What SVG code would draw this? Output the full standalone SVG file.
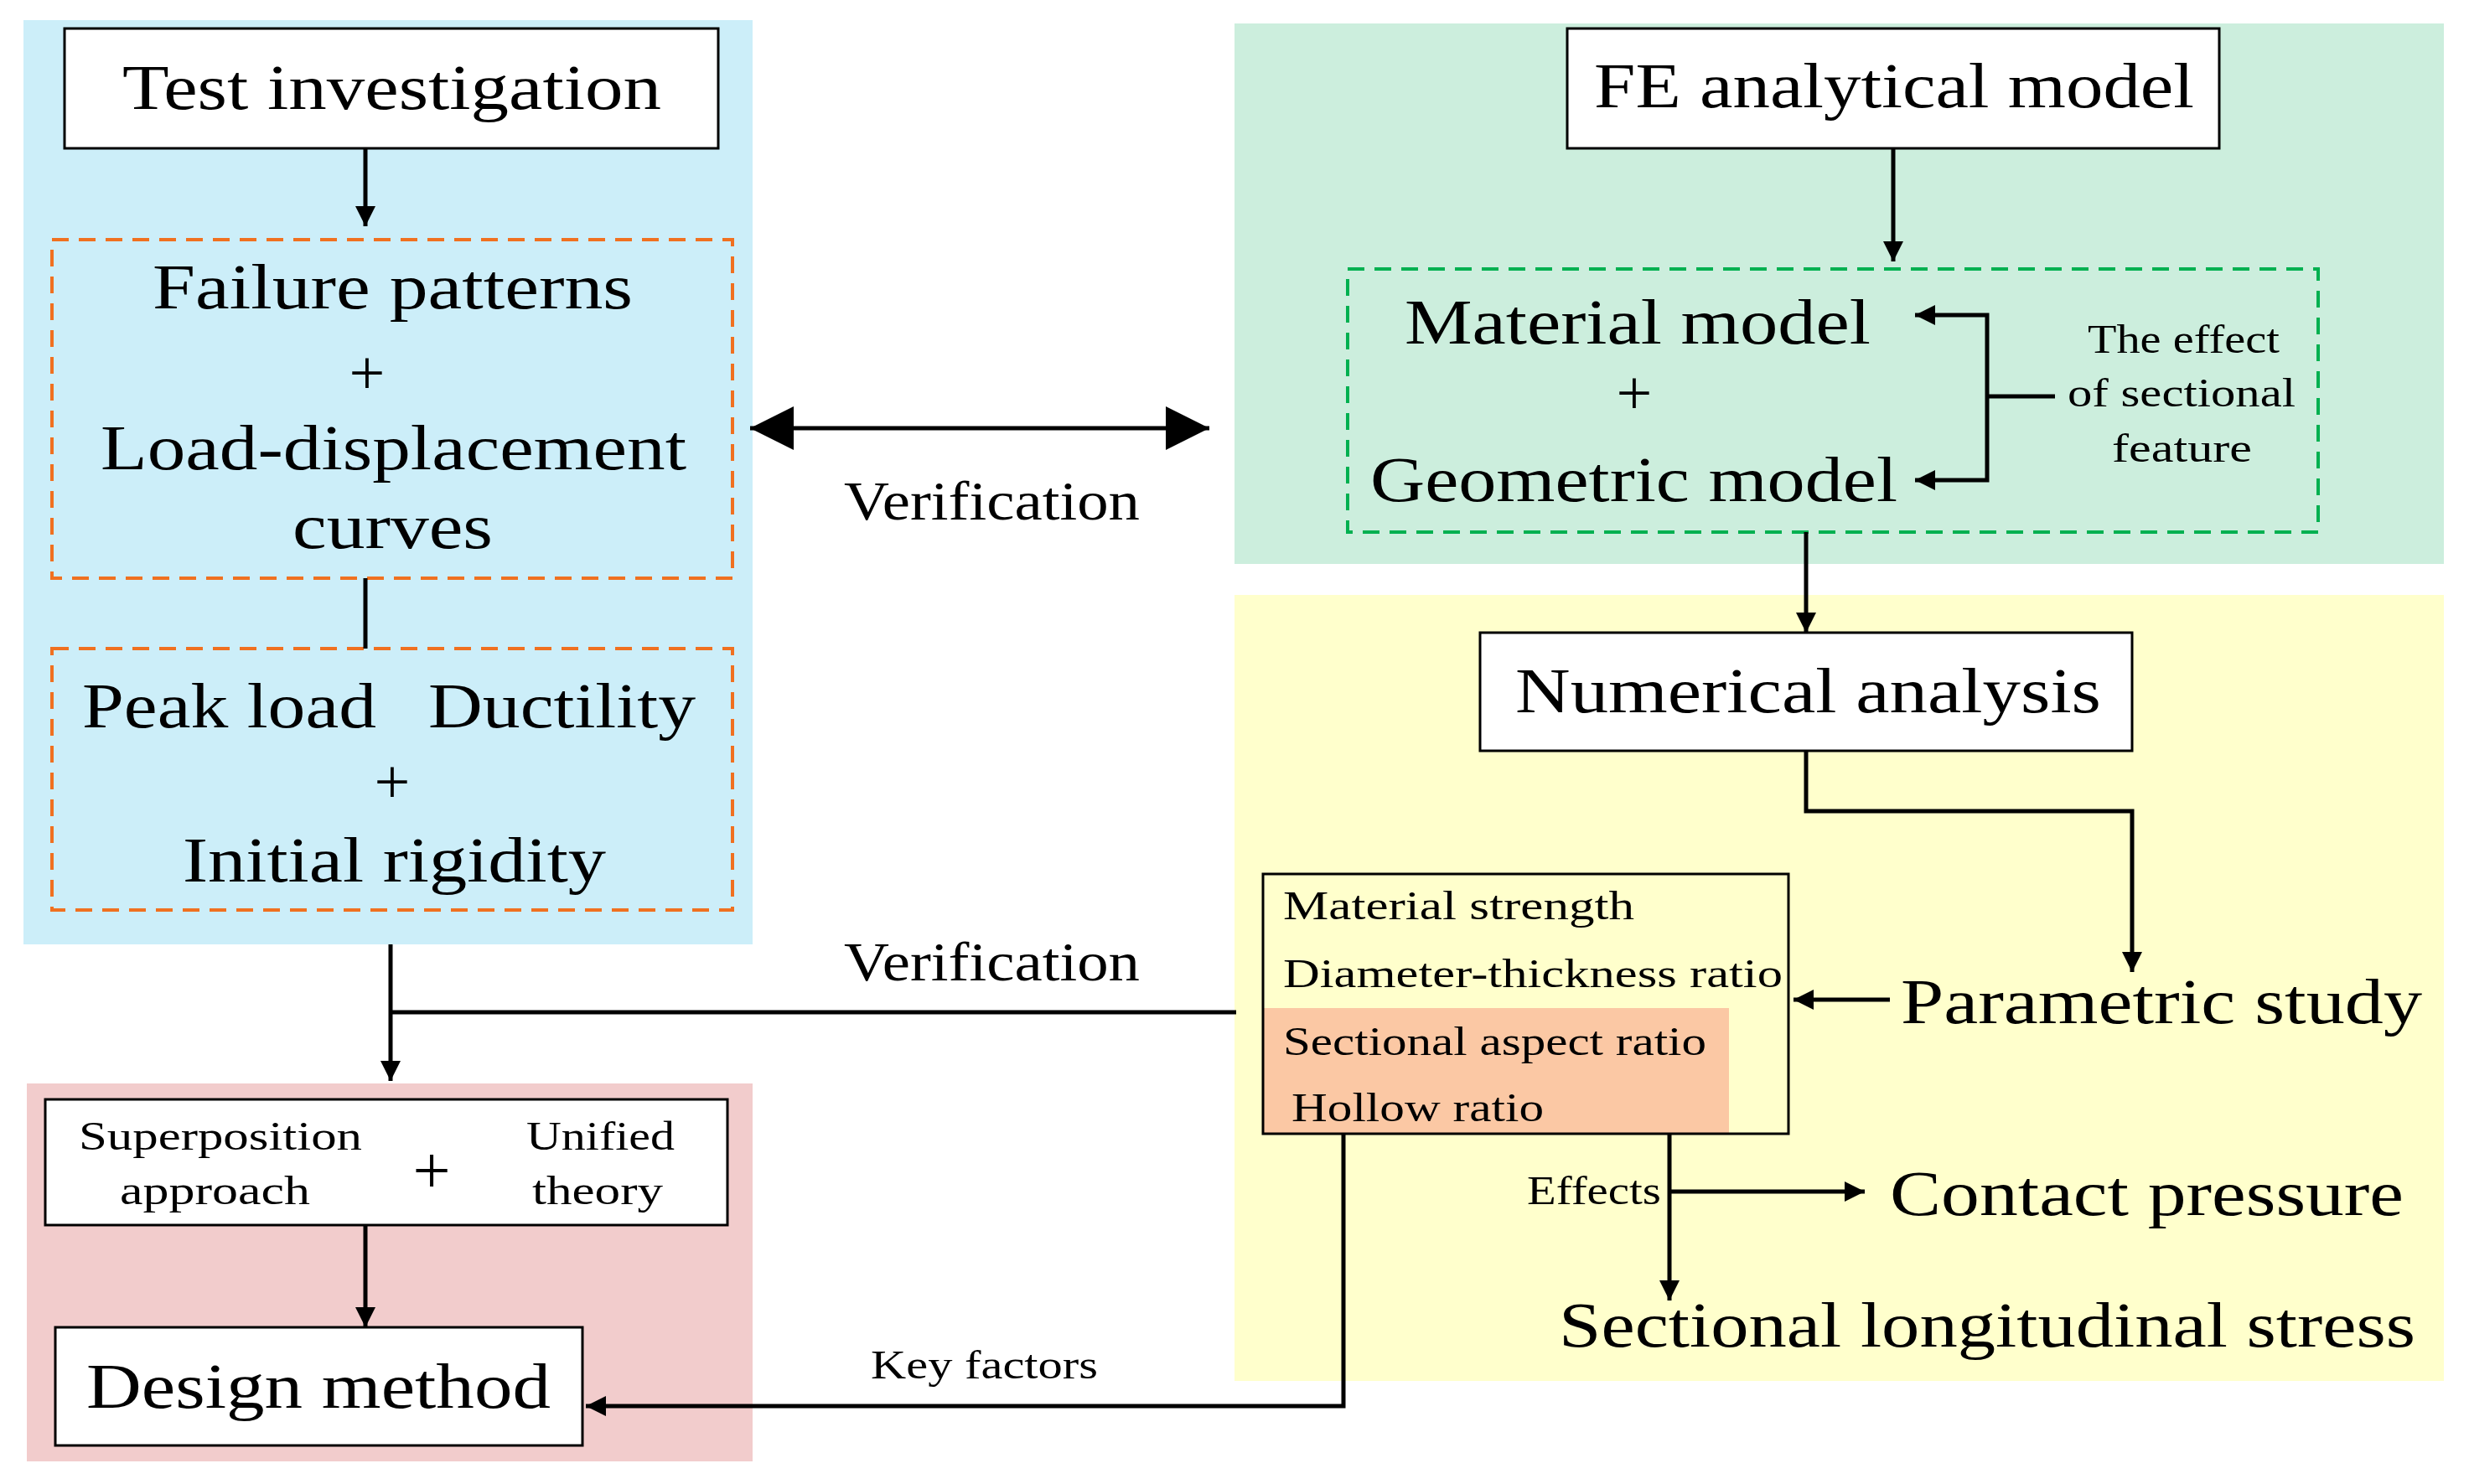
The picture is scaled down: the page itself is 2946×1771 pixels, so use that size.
<svg xmlns="http://www.w3.org/2000/svg" width="2946" height="1771" viewBox="0 0 2946 1771">
<defs>
<marker id="ahs" viewBox="0 0 10 10" refX="10" refY="5" markerWidth="46" markerHeight="24" markerUnits="userSpaceOnUse" orient="auto-start-reverse"><path d="M0,0 L10,5 L0,10 z" fill="#000"/></marker>
<marker id="ahb" viewBox="0 0 10 10" refX="10" refY="5" markerWidth="80" markerHeight="52" markerUnits="userSpaceOnUse" orient="auto-start-reverse"><path d="M0,0 L10,5 L0,10 z" fill="#000"/></marker>
</defs>
<style>
text{font-family:"Liberation Serif","DejaVu Serif",serif;fill:#000}
.big{font-size:76px}
.sm{font-size:48px}
.box{fill:#fff;stroke:#000;stroke-width:3}
.od{fill:none;stroke:#F07020;stroke-width:4;stroke-dasharray:20 12}
.gd{fill:none;stroke:#00B050;stroke-width:4;stroke-dasharray:20 12}
.ln{fill:none;stroke:#000;stroke-width:5}
</style>
<rect width="2946" height="1771" fill="#fff"/>
<g id="panels">
<rect x="28" y="24" width="870" height="1103" fill="#CCEEF9"/>
<rect x="32" y="1293" width="866" height="451" fill="#F2CCCC"/>
<rect x="1473" y="28" width="1443" height="645" fill="#CCEEDD"/>
<rect x="1473" y="710" width="1443" height="938" fill="#FFFFCC"/>
</g>
<g id="test">
<rect class="box" x="77" y="34" width="780" height="143"/>
<text class="big" x="146" y="130" textLength="643" lengthAdjust="spacingAndGlyphs">Test investigation</text>
</g>
<g id="failure">
<rect class="od" x="62" y="286" width="812" height="404"/>
<text class="big" x="182" y="368" textLength="573" lengthAdjust="spacingAndGlyphs">Failure patterns</text>
<text class="big" x="438" y="470" text-anchor="middle">+</text>
<text class="big" x="120" y="560" textLength="699" lengthAdjust="spacingAndGlyphs">Load-displacement</text>
<text class="big" x="349" y="654" textLength="239" lengthAdjust="spacingAndGlyphs">curves</text>
</g>
<g id="peak">
<rect class="od" x="62" y="774" width="812" height="312"/>
<text class="big" x="98" y="868" textLength="351" lengthAdjust="spacingAndGlyphs">Peak load</text>
<text class="big" x="511" y="868" textLength="319" lengthAdjust="spacingAndGlyphs">Ductility</text>
<text class="big" x="468" y="958" text-anchor="middle">+</text>
<text class="big" x="218" y="1052" textLength="505" lengthAdjust="spacingAndGlyphs">Initial rigidity</text>
</g>
<g id="superposition">
<rect class="box" x="54" y="1312" width="814" height="150"/>
<text class="sm" x="94" y="1372" textLength="338" lengthAdjust="spacingAndGlyphs">Superposition</text>
<text class="sm" x="143" y="1437" textLength="227" lengthAdjust="spacingAndGlyphs">approach</text>
<text x="515" y="1424" text-anchor="middle" font-size="80">+</text>
<text class="sm" x="628" y="1372" textLength="177" lengthAdjust="spacingAndGlyphs">Unified</text>
<text class="sm" x="635" y="1437" textLength="156" lengthAdjust="spacingAndGlyphs">theory</text>
</g>
<g id="design">
<rect class="box" x="66" y="1584" width="629" height="141"/>
<text class="big" x="103" y="1680" textLength="554" lengthAdjust="spacingAndGlyphs">Design method</text>
</g>
<g id="fe">
<rect class="box" x="1870" y="34" width="778" height="143"/>
<text class="big" x="1902" y="128" textLength="716" lengthAdjust="spacingAndGlyphs">FE analytical model</text>
</g>
<g id="material">
<rect class="gd" x="1608" y="321" width="1158" height="314"/>
<text class="big" x="1676" y="410" textLength="556" lengthAdjust="spacingAndGlyphs">Material model</text>
<text class="big" x="1950" y="494" text-anchor="middle">+</text>
<text class="big" x="1635" y="598" textLength="629" lengthAdjust="spacingAndGlyphs">Geometric model</text>
<text class="sm" x="2491" y="421" textLength="229" lengthAdjust="spacingAndGlyphs">The effect</text>
<text class="sm" x="2467" y="485" textLength="272" lengthAdjust="spacingAndGlyphs">of sectional</text>
<text class="sm" x="2520" y="551" textLength="167" lengthAdjust="spacingAndGlyphs">feature</text>
</g>
<g id="numerical">
<rect class="box" x="1766" y="755" width="778" height="141"/>
<text class="big" x="1808" y="850" textLength="699" lengthAdjust="spacingAndGlyphs">Numerical analysis</text>
</g>
<g id="factors">
<rect x="1507" y="1203" width="556" height="150" fill="#FBC8A4"/>
<rect x="1507" y="1043" width="627" height="310" fill="none" stroke="#000" stroke-width="3"/>
<text class="sm" x="1531" y="1097" textLength="419" lengthAdjust="spacingAndGlyphs">Material strength</text>
<text class="sm" x="1531" y="1178" textLength="596" lengthAdjust="spacingAndGlyphs">Diameter-thickness ratio</text>
<text class="sm" x="1531" y="1259" textLength="505" lengthAdjust="spacingAndGlyphs">Sectional aspect ratio</text>
<text class="sm" x="1541" y="1338" textLength="301" lengthAdjust="spacingAndGlyphs">Hollow ratio</text>
</g>
<g id="parametric"><text class="big" x="2268" y="1221" textLength="622" lengthAdjust="spacingAndGlyphs">Parametric study</text></g>
<g id="contact"><text class="big" x="2255" y="1450" textLength="613" lengthAdjust="spacingAndGlyphs">Contact pressure</text></g>
<g id="stress"><text class="big" x="1860" y="1607" textLength="1022" lengthAdjust="spacingAndGlyphs">Sectional longitudinal stress</text></g>
<g id="connectors">
<line class="ln" x1="436" y1="177" x2="436" y2="270" marker-end="url(#ahs)"/>
<line class="ln" x1="436" y1="690" x2="436" y2="774"/>
<polyline class="ln" points="1475,1208 466,1208"/>
<line class="ln" x1="466" y1="1127" x2="466" y2="1290" marker-end="url(#ahs)"/>
<line class="ln" x1="436" y1="1462" x2="436" y2="1584" marker-end="url(#ahs)"/>
<polyline class="ln" points="1603,1353 1603,1678 699,1678" marker-end="url(#ahs)"/>
<line class="ln" x1="2259" y1="177" x2="2259" y2="312" marker-end="url(#ahs)"/>
<line class="ln" x1="895" y1="511" x2="1443" y2="511" marker-start="url(#ahb)" marker-end="url(#ahb)"/>
<polyline class="ln" points="2285,376 2371,376 2371,573 2285,573" marker-start="url(#ahs)" marker-end="url(#ahs)"/>
<line class="ln" x1="2371" y1="473" x2="2452" y2="473"/>
<line class="ln" x1="2155" y1="635" x2="2155" y2="755" marker-end="url(#ahs)"/>
<polyline class="ln" points="2155,896 2155,968 2544,968 2544,1160" marker-end="url(#ahs)"/>
<line class="ln" x1="2255" y1="1193" x2="2140" y2="1193" marker-end="url(#ahs)"/>
<line class="ln" x1="1992" y1="1353" x2="1992" y2="1552" marker-end="url(#ahs)"/>
<line class="ln" x1="1992" y1="1422" x2="2225" y2="1422" marker-end="url(#ahs)"/>
<text x="1007" y="620" textLength="353" lengthAdjust="spacingAndGlyphs" font-size="66">Verification</text>
<text x="1007" y="1170" textLength="353" lengthAdjust="spacingAndGlyphs" font-size="66">Verification</text>
<text class="sm" x="1039" y="1645" textLength="271" lengthAdjust="spacingAndGlyphs">Key factors</text>
<text class="sm" x="1822" y="1437" textLength="160" lengthAdjust="spacingAndGlyphs">Effects</text>
</g>
</svg>
